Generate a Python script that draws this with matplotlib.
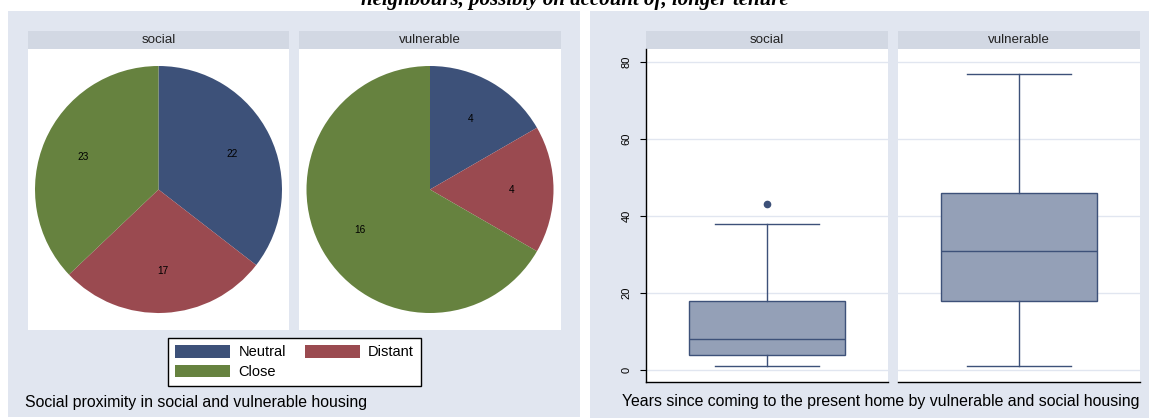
import matplotlib
matplotlib.use("Agg")
import matplotlib.pyplot as plt
from matplotlib.patches import Rectangle, Patch

# ---------------- data ----------------
proximity_cats = ["Neutral", "Distant", "Close"]
social_counts = [22, 17, 23]
vulnerable_counts = [4, 4, 16]
pie_colors = ["#3d5179", "#9a4a50", "#66823f"]
panel_names = ["social", "vulnerable"]

# box plot summaries (years since coming to the present home)
box_q1 = [4, 18]
box_med = [8, 31]
box_q3 = [18, 46]
box_lo = [1, 1]
box_hi = [38, 77]
box_out = [[43], []]
yticks = [0, 20, 40, 60, 80]

left_caption = "Social proximity in social and vulnerable housing"
right_caption = "Years since coming to the present home by vulnerable and social housing"
top_title = "neighbours, possibly on account of, longer tenure"

# ---------------- layout ----------------
W, H = 1149, 419
DPI = 100
plt.rcParams['font.family'] = ['Liberation Sans', 'DejaVu Sans']
fig = plt.figure(figsize=(W / DPI, H / DPI), dpi=DPI, facecolor="white")

BG = "#e1e6f0"
STRIP = "#d2d8e3"
NAVY = "#3d5179"
BOXFILL = "#94a0b7"
GRID = "#e1e6f0"


def frect(x0, y0, x1, y1):
    return [x0 / W, 1 - y1 / H, (x1 - x0) / W, (y1 - y0) / H]


def fig_rect(x0, y0, x1, y1, color, z=-2):
    l, b, w, h = frect(x0, y0, x1, y1)
    fig.patches.append(Rectangle((l, b), w, h, transform=fig.transFigure,
                                 facecolor=color, edgecolor="none", zorder=z))


def fx(x):
    return x / W


def fy(y):
    return 1 - y / H

# panel backgrounds
fig_rect(8, 11, 580, 417, BG, z=-3)
fig_rect(590, 11, 1149, 418, BG, z=-3)

# cut-off title at the very top (only its lower edge is visible, as in the source)
fig.text(0.5, fy(5.5), top_title, ha="center", va="baseline", fontsize=15,
         fontweight="bold", fontstyle="italic", family="Liberation Serif")

# ---------------- pies ----------------
pie_boxes = [(28, 289), (299, 561)]
pie_data = [social_counts, vulnerable_counts]
for (x0, x1), name, vals in zip(pie_boxes, panel_names, pie_data):
    fig_rect(x0, 49, x1, 330, "white")
    fig_rect(x0, 31, x1, 49, STRIP)
    fig.text(fx((x0 + x1) / 2), fy(40), name, ha="center", va="center",
             fontsize=9.6, color="#222222")
    ax = fig.add_axes(frect(x0, 49, x1, 330))
    total = sum(vals)
    ax.pie(vals, colors=pie_colors, startangle=90, counterclock=False,
           autopct=lambda p, t=total: f"{round(p * t / 100):d}",
           pctdistance=0.66, textprops=dict(fontsize=7.3, color="black"),
           wedgeprops=dict(linewidth=0))
    r = 123.5
    ax.set_aspect("auto")
    ax.set_xlim(-(x1 - x0) / 2 / r, (x1 - x0) / 2 / r)
    ax.set_ylim(-(330 - 49) / 2 / r, (330 - 49) / 2 / r)
    ax.axis("off")

# legend filled row-wise (Neutral, Distant / Close) -> reorder for column fill
order = [0, 2, 1]
handles = [Patch(facecolor=pie_colors[k], edgecolor="none") for k in order]
labels = [proximity_cats[k] for k in order]
leg = fig.legend(handles, labels, ncol=2, loc="center",
                 bbox_to_anchor=(fx(294.5), fy(362)), fontsize=10.5,
                 frameon=True, fancybox=False, edgecolor="black", framealpha=1,
                 handlelength=3.8, handleheight=0.95, handletextpad=0.55,
                 columnspacing=1.3, labelspacing=0.38, borderpad=0.45)
leg.get_frame().set_linewidth(1.0)
leg.get_frame().set_facecolor("white")

fig.text(fx(25), fy(402), left_caption, ha="left", va="center", fontsize=11.4)

# ---------------- box plots ----------------
box_boxes = [(646, 888), (898, 1140)]
for i, ((x0, x1), name) in enumerate(zip(box_boxes, panel_names)):
    fig_rect(x0, 31, x1, 49, STRIP)
    fig.text(fx((x0 + x1) / 2), fy(40), name, ha="center", va="center",
             fontsize=9.6, color="#222222")
    ax = fig.add_axes(frect(x0, 49, x1, 382))
    ax.set_facecolor("white")
    stats = [dict(med=box_med[i], q1=box_q1[i], q3=box_q3[i],
                  whislo=box_lo[i], whishi=box_hi[i], fliers=box_out[i])]
    ax.bxp(stats, positions=[1], widths=0.645, capwidths=0.43,
           patch_artist=True, showfliers=True,
           boxprops=dict(facecolor=BOXFILL, edgecolor=NAVY, linewidth=1.0),
           medianprops=dict(color=NAVY, linewidth=1.0),
           whiskerprops=dict(color=NAVY, linewidth=1.0),
           capprops=dict(color=NAVY, linewidth=1.0),
           flierprops=dict(marker="o", markerfacecolor=NAVY,
                           markeredgecolor=NAVY, markersize=4.5))
    ax.set_xlim(0.5, 1.5)
    ax.set_ylim((382 - 370) / -3.85, (370 - 49) / 3.85)
    ax.set_yticks(yticks)
    ax.set_xticks([])
    ax.grid(axis="y", color=GRID, linewidth=1.0)
    ax.set_axisbelow(True)
    for s in ["top", "right"]:
        ax.spines[s].set_visible(False)
    ax.spines["bottom"].set_color("black")
    ax.spines["bottom"].set_linewidth(1.0)
    if i == 0:
        ax.spines["left"].set_color("black")
        ax.spines["left"].set_linewidth(1.0)
        ax.tick_params(axis="y", length=4.5, width=0.8, pad=6,
                       labelsize=8, labelrotation=90)
        for lab in ax.get_yticklabels():
            lab.set_va("center")
    else:
        ax.spines["left"].set_visible(False)
        ax.tick_params(axis="y", left=False, labelleft=False)

fig.text(fx(622), fy(401), right_caption, ha="left", va="center", fontsize=11.4)

fig.savefig("out.png", dpi=DPI, facecolor="white")
